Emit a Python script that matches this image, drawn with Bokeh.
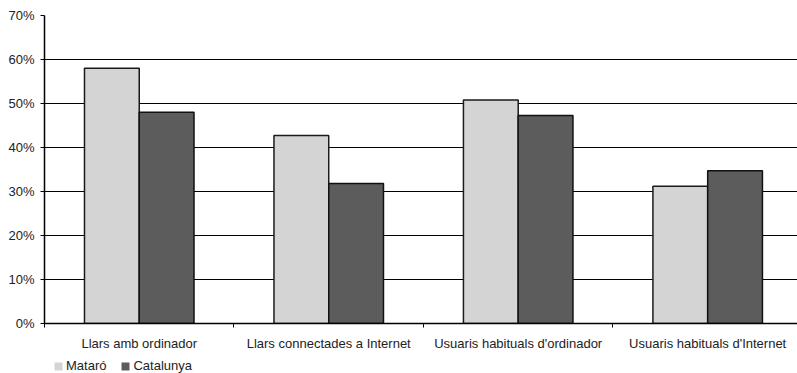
from bokeh.plotting import figure
from bokeh.layouts import column
from bokeh.models import (ColumnDataSource, FixedTicker, PrintfTickFormatter, Legend, LegendItem, Range1d)
from bokeh.embed import file_html
from bokeh.resources import INLINE

categories = ["Llars amb ordinador", "Llars connectades a Internet",
              "Usuaris habituals d'ordinador", "Usuaris habituals d'Internet"]
mataro = [58.0, 42.7, 50.8, 31.2]
catalunya = [48.0, 31.8, 47.3, 34.7]
y_ticks = [0, 10, 20, 30, 40, 50, 60, 70]
series_names = ["Mataró", "Catalunya"]

FONT = "Liberation Sans"
FS = "13px"
FILL_M, FILL_C = "#d4d4d4", "#5c5c5c"
bar_w = 0.289
centers = [i + 0.5 for i in range(len(categories))]

p = figure(width=797, height=355, output_backend="svg", toolbar_location=None,
           x_range=Range1d(0, 3.974), y_range=Range1d(0, 70),
           min_border_left=44, min_border_right=0, min_border_top=15, min_border_bottom=32)
p.outline_line_color = None
p.background_fill_color = "white"

src_m = ColumnDataSource(dict(x=[c - bar_w / 2 for c in centers], top=mataro))
src_c = ColumnDataSource(dict(x=[c + bar_w / 2 for c in centers], top=catalunya))
p.vbar(x="x", top="top", width=bar_w, source=src_m, fill_color=FILL_M,
       line_color="#1a1a1a", line_width=1.5)
p.vbar(x="x", top="top", width=bar_w, source=src_c, fill_color=FILL_C,
       line_color="#111111", line_width=1.5)

# x axis
p.xaxis.ticker = FixedTicker(ticks=centers, minor_ticks=list(range(len(categories) + 1)))
p.xaxis.major_label_overrides = {c: categories[i] for i, c in enumerate(centers)}
p.xaxis.major_tick_line_color = None
p.xaxis.major_tick_out = 0
p.xaxis.major_tick_in = 0
p.xaxis.minor_tick_line_color = "black"
p.xaxis.minor_tick_out = 4
p.xaxis.minor_tick_in = 0
p.xaxis.axis_line_color = "black"
p.xaxis.axis_line_width = 1.5
p.xaxis.major_label_standoff = 8
p.xaxis.major_label_text_font = FONT
p.xaxis.major_label_text_font_size = FS
p.xaxis.major_label_text_color = "#222222"

# y axis
p.yaxis.ticker = FixedTicker(ticks=y_ticks, minor_ticks=[])
p.yaxis.formatter = PrintfTickFormatter(format="%d%%")
p.yaxis.major_tick_out = 4
p.yaxis.major_tick_in = 0
p.yaxis.major_tick_line_color = "black"
p.yaxis.axis_line_color = "black"
p.yaxis.axis_line_width = 1.5
p.yaxis.major_label_standoff = 6
p.yaxis.major_label_text_font = FONT
p.yaxis.major_label_text_font_size = FS
p.yaxis.major_label_text_color = "#222222"

p.xgrid.grid_line_color = None
p.ygrid.grid_line_color = "black"
p.ygrid.grid_line_width = 1.2

# legend strip (separate small figure under the chart)
q = figure(width=797, height=18, output_backend="svg", toolbar_location=None,
           x_range=Range1d(0, 1), y_range=Range1d(1000, 1001),
           x_axis_location=None, y_axis_location=None,
           min_border_left=0, min_border_right=0, min_border_top=0, min_border_bottom=0)
q.outline_line_color = None
q.grid.visible = False
lm = q.vbar(x=[0.5], top=[mataro[0]], width=0.1, fill_color=FILL_M, line_color=None)
lc = q.vbar(x=[0.5], top=[catalunya[0]], width=0.1, fill_color=FILL_C, line_color=None)
legend = Legend(items=[LegendItem(label=series_names[0], renderers=[lm]),
                       LegendItem(label=series_names[1], renderers=[lc])],
                location=(9, 0), orientation="horizontal")
legend.border_line_color = None
legend.background_fill_alpha = 0
legend.padding = 0
legend.margin = 0
legend.spacing = 14
legend.glyph_width = 10
legend.glyph_height = 10
legend.label_height = 12
legend.label_standoff = 3
legend.label_text_font = FONT
legend.label_text_font_size = FS
legend.label_text_color = "#222222"
q.add_layout(legend, "center")

layout = column(p, q, spacing=0)
open("out.html", "w").write(file_html(layout, INLINE))
